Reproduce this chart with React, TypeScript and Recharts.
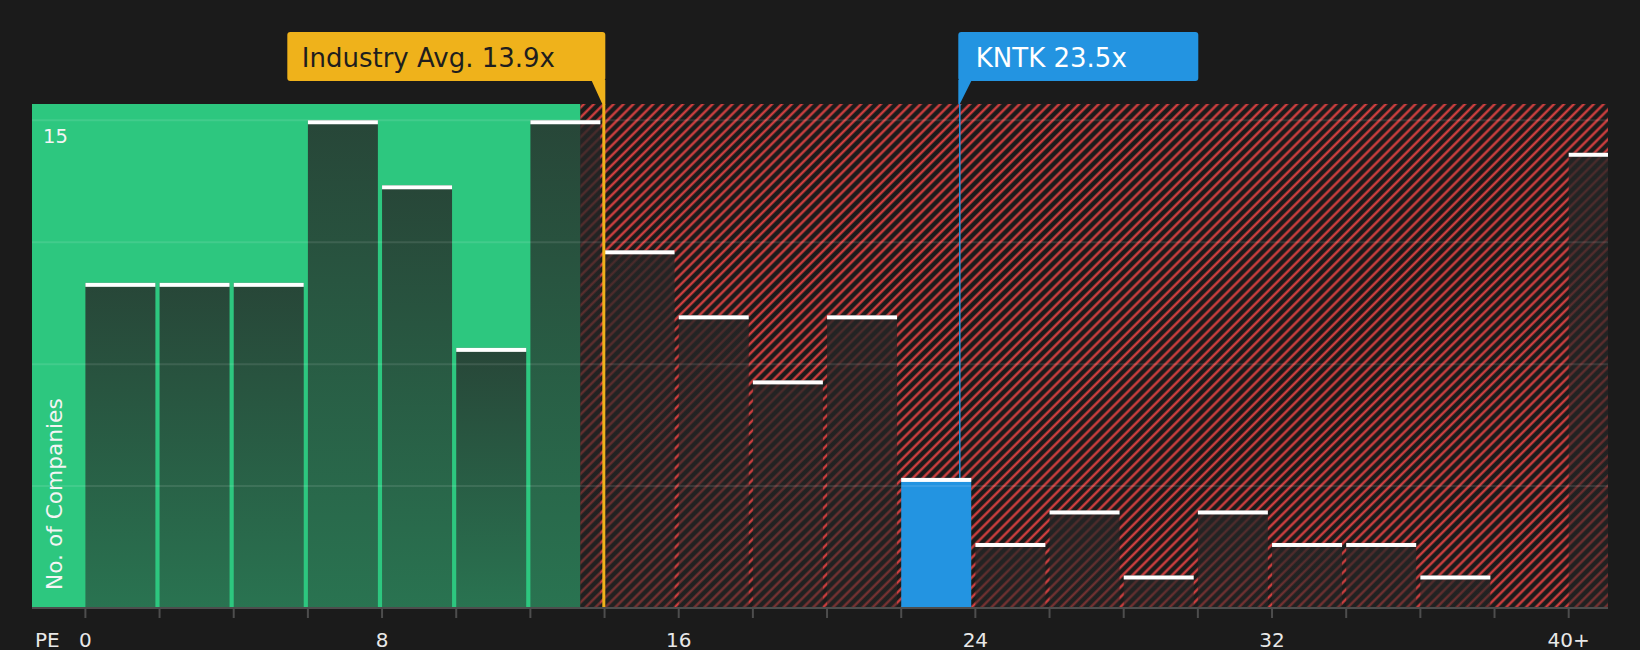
import React from 'react';
import { ComposedChart, Bar, XAxis, YAxis, ReferenceArea, ReferenceLine, Label } from 'recharts';

// PE histogram: each bin is 2x wide, the last one is "40+"
const binStarts = [0, 2, 4, 6, 8, 10, 12, 14, 16, 18, 20, 22, 24, 26, 28, 30, 32, 34, 36, 38, 40];
const companyCounts = [10, 10, 10, 15, 13, 8, 15, 11, 9, 7, 9, 4, 2, 3, 1, 3, 2, 2, 1, 0, 14];
const binWidth = 2;

const companyName = 'KNTK';
const companyLabel = '23.5x';
const companyPE = 23.58; // where the marker sits on the axis
const companyBin = 22;
const industryLabel = 'Industry Avg. 13.9x';
const industryAvg = 13.98; // where the marker sits on the axis
const fairZoneEnd = 13.35;

const xDomain = [-1.44, 41.06];
const yDomain = [0, 15.5];
const xTicks = [0, 2, 4, 6, 8, 10, 12, 14, 16, 18, 20, 22, 24, 26, 28, 30, 32, 34, 36, 38, 40];
const xTickLabels: Record<number, string> = { 0: '0', 8: '8', 16: '16', 24: '24', 32: '32', 40: '40+' };
const yTicks = [0, 3.75, 7.5, 11.25, 15];
const yTickLabels: Record<number, string> = { 15: '15' };

const FONT = '"DejaVu Sans", sans-serif';
const GREEN = '#2dc77f';
const ORANGE = '#efb21b';
const BLUE = '#2394e1';

const data = binStarts.map((start, i) => ({
    x: start + binWidth / 2,
    count: companyCounts[i],
    own: start === companyBin,
}));

const BinShape = (props: any) => {
    const { x, y, width, height, payload } = props;
    if (!payload || !payload.count) return <g />;
    const w = width - 4;
    return (
        <g>
            <rect x={x} y={y} width={w} height={height} fill={payload.own ? BLUE : 'url(#binFade)'} />
            <rect x={x} y={y} width={w} height={4} fill="#ffffff" />
        </g>
    );
};

const IndustryFlag = (props: any) => {
    const { x, y } = props.viewBox;
    return (
        <g>
            <rect x={x + 1.5 - 318} y={y - 72} width={318} height={49} rx={3} fill={ORANGE} />
            <path d={`M${x - 12.5},${y - 24} L${x + 1.5},${y - 24} L${x + 1.5},${y} L${x - 1.5},${y} Z`} fill={ORANGE} />
            <text x={x - 302} y={y - 37} fontSize={26} fontFamily={FONT} fill="#1e1e1e">
                {industryLabel}
            </text>
        </g>
    );
};

const CompanyFlag = (props: any) => {
    const { x, y } = props.viewBox;
    return (
        <g>
            <rect x={x - 1.5} y={y - 72} width={240} height={49} rx={3} fill={BLUE} />
            <path d={`M${x - 1.5},${y - 24} L${x + 12},${y - 24} L${x},${y} L${x - 1.5},${y} Z`} fill={BLUE} />
            <text x={x + 16} y={y - 37} fontSize={26} fontFamily={FONT} fill="#ffffff">
                {`${companyName} ${companyLabel}`}
            </text>
        </g>
    );
};

const XTick = (props: any) => {
    const { x, y, payload } = props;
    const label = xTickLabels[payload.value];
    if (!label) return <g />;
    return (
        <text x={x} y={y + 29} textAnchor="middle" fontSize={20} fontFamily={FONT} fill="#e8e8e8">
            {label}
        </text>
    );
};

const GridValue = (props: any, value: number) => {
    const label = yTickLabels[value];
    if (!label) return <g />;
    const { x, y } = props.viewBox;
    return (
        <text x={x + 11} y={y + 23} fontSize={19.5} fontFamily={FONT} fill="#f4f4f4">
            {label}
        </text>
    );
};

const YTitle = (props: any) => {
    const { x, y, height } = props.viewBox;
    const tx = x + 30;
    const ty = y + height - 18;
    return (
        <text x={tx} y={ty} transform={`rotate(-90, ${tx}, ${ty})`} fontSize={21.7} fontFamily={FONT} fill="#f4f4f4">
            No. of Companies
        </text>
    );
};

const XTitle = (props: any) => {
    const { x, y } = props.viewBox;
    return (
        <text x={x + 3} y={y + 39} fontSize={20} fontFamily={FONT} fill="#e8e8e8">
            PE
        </text>
    );
};

function App() {
    return (
        <div style={{ width: 1640, height: 650, background: '#1b1b1b', fontFamily: FONT }}>
            <style>{'body{margin:0;background:#1b1b1b;}'}</style>
            <ComposedChart
                width={1640}
                height={650}
                data={data}
                margin={{ top: 104, right: 32, bottom: 0, left: 32 }}
            >
                <defs>
                    <linearGradient id="binFade" x1="0" y1="0" x2="0" y2="1">
                        <stop offset="0" stopColor="#262626" stopOpacity={0.8} />
                        <stop offset="1" stopColor="#262626" stopOpacity={0.52} />
                    </linearGradient>
                    <pattern id="redHatch" patternUnits="userSpaceOnUse" width="7" height="7" patternTransform="rotate(45)">
                        <rect width="7" height="7" fill="#1b1b1b" />
                        <line x1="3.5" y1="0" x2="3.5" y2="7" stroke="#e04242" strokeWidth="2.2" />
                    </pattern>
                </defs>
                <ReferenceArea x1={xDomain[0]} x2={fairZoneEnd} y1={yDomain[0]} y2={yDomain[1]} fill={GREEN} fillOpacity={1} stroke="none" zIndex={-200} />
                <ReferenceArea x1={fairZoneEnd} x2={xDomain[1]} y1={yDomain[0]} y2={yDomain[1]} fill="url(#redHatch)" fillOpacity={1} stroke="none" zIndex={-200} />
                <ReferenceLine x={companyPE} stroke={BLUE} strokeWidth={1.5} zIndex={-150} label={(p: any) => <CompanyFlag {...p} />} />
                <Bar dataKey="count" barSize={74} shape={<BinShape />} isAnimationActive={false} />
                {yTicks.filter((v) => v > 0).map((v) => (
                    <ReferenceLine key={v} y={v} stroke="#ffffff" strokeOpacity={0.1} strokeWidth={2} label={(p: any) => GridValue(p, v)} />
                ))}
                <ReferenceLine x={xDomain[0]} stroke="none" label={(p: any) => <YTitle {...p} />} />
                <ReferenceLine x={industryAvg} stroke={ORANGE} strokeWidth={3} label={(p: any) => <IndustryFlag {...p} />} />
                <XAxis
                    dataKey="x"
                    type="number"
                    domain={xDomain}
                    allowDataOverflow
                    ticks={xTicks}
                    interval={0}
                    height={42}
                    tickSize={10}
                    tickMargin={0}
                    axisLine={{ stroke: '#4d4d4d', strokeWidth: 2 }}
                    tickLine={{ stroke: '#4d4d4d', strokeWidth: 2 }}
                    tick={(p: any) => <XTick {...p} />}
                    label={<Label content={(p: any) => <XTitle {...p} />} />}
                />
                <YAxis
                    type="number"
                    domain={yDomain}
                    allowDataOverflow
                    ticks={yTicks}
                    width={0}
                    axisLine={false}
                    tickLine={false}
                    tick={false}
                />
            </ComposedChart>
        </div>
    );
}

export default App;
